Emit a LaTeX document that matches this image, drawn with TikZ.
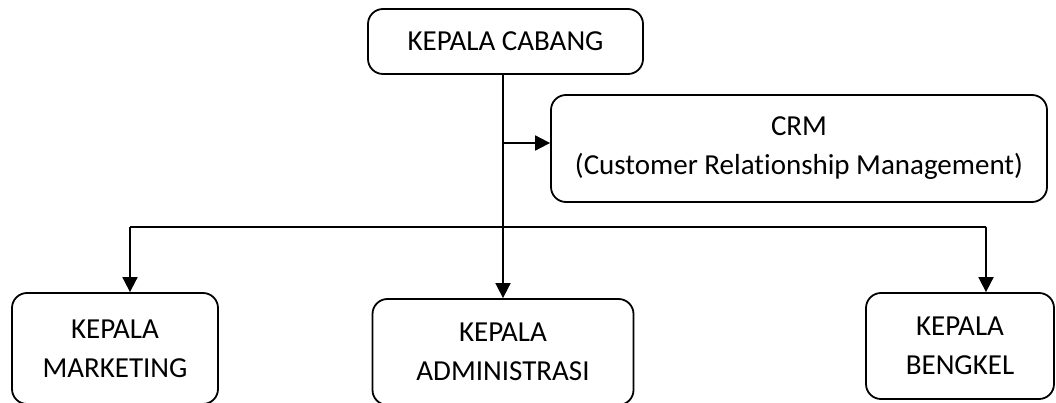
\documentclass[tikz,border=0pt]{standalone}
\usepackage{fontspec}
\setmainfont[Ligatures=NoCommon]{Carlito}
\usetikzlibrary{arrows.meta}
\tikzset{
  unit/.style={draw, line width=1.8pt, rounded corners=15pt, align=center,
    inner sep=0pt, font=\fontsize{29}{39}\selectfont},
  link/.style={line width=1.8pt},
  arr/.style={link, -{Triangle[length=15pt,width=15pt]}}
}
\begin{document}
\begin{tikzpicture}[x=1pt,y=-1pt]
  \clip (0,0) rectangle (1056,403);
  % organisation units
  \node[unit, minimum width=275pt, minimum height=65pt]  (cabang)    at (505.5,41.5) {KEPALA CABANG};
  \node[unit, minimum width=496pt, minimum height=107pt] (crm)       at (799,148.5)  {CRM\\(Customer Relationship Management)};
  \node[unit, minimum width=206pt, minimum height=111pt] (marketing) at (115,348.5)  {KEPALA\\MARKETING};
  \node[unit, minimum width=261pt, minimum height=106pt] (admin)     at (503,352)    {KEPALA\\ADMINISTRASI};
  \node[unit, minimum width=188pt, minimum height=106pt] (bengkel)   at (960,346)    {KEPALA\\BENGKEL};
  % branch points
  \coordinate (tap) at (503,143);
  \coordinate (busL) at (130,227);
  \coordinate (busR) at (986,227);
  % connectors
  \draw[arr] (admin.north |- cabang.south) -- (admin.north);
  \draw[arr] (tap) -- (tap -| crm.west);
  \draw[link] (busL) -- (busR);
  \draw[arr] (busL) -- (busL |- marketing.north);
  \draw[arr] (busR) -- (busR |- bengkel.north);
\end{tikzpicture}
\end{document}
